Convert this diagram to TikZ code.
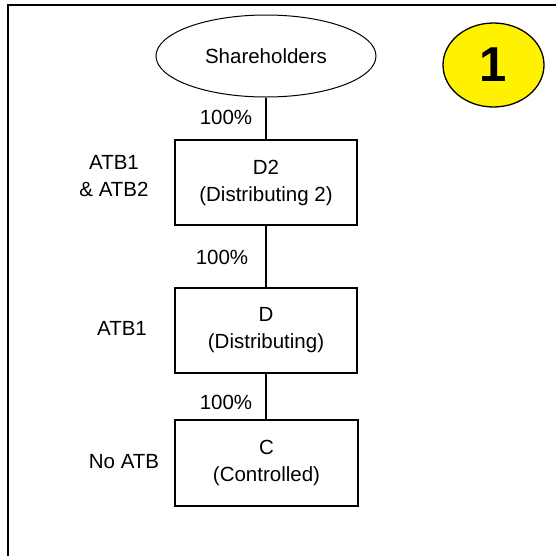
\documentclass[tikz,border=0pt]{standalone}
\usepackage{fontspec}
\setmainfont{Liberation Sans}
\usetikzlibrary{shapes.geometric}
\begin{document}
\begin{tikzpicture}[x=1pt,y=-1pt,
  lbl/.style={font=\fontsize{20.5}{27}\selectfont, align=center, inner sep=0pt},
  entity/.style={draw, line width=1.2pt, minimum width=182pt, minimum height=85pt, inner sep=0pt, font=\fontsize{20.5}{27}\selectfont, align=center},
  link/.style={line width=1.2pt}]
\useasboundingbox (0,0) rectangle (556,555);
\draw[line width=2pt] (8,556) -- (8,5) -- (557,5);
\node[ellipse, draw, line width=1pt, minimum width=220pt, minimum height=82pt, inner sep=0pt, font=\fontsize{20.5}{27}\selectfont] (sh) at (266,56) {Shareholders};
\node[ellipse, draw, line width=1.3pt, fill=yellow, minimum width=101pt, minimum height=84pt, inner sep=0pt, font=\fontsize{49}{52}\bfseries] (one) at (493.5,65) {1};
\node[entity] (d2) at (266,182.5) {D2\\(Distributing 2)};
\node[entity] (d) at (266,330.5) {D\\(Distributing)};
\node[entity, minimum width=183pt, minimum height=86pt] (c) at (266.5,463) {C\\(Controlled)};
\draw[link] (sh.south) -- (d2.north);
\draw[link] (d2.south) -- (d.north);
\draw[link] (d.south) -- (d.south |- c.north);
\node[lbl] (p1) at (226,117) {100\%};
\node[lbl] (p2) at (222,257) {100\%};
\node[lbl] (p3) at (226,402) {100\%};
\node[lbl] (a1) at (114,176) {ATB1\\\& ATB2};
\node[lbl] (a2) at (122,328) {ATB1};
\node[lbl] (a3) at (124,462) {No ATB};
\end{tikzpicture}
\end{document}
